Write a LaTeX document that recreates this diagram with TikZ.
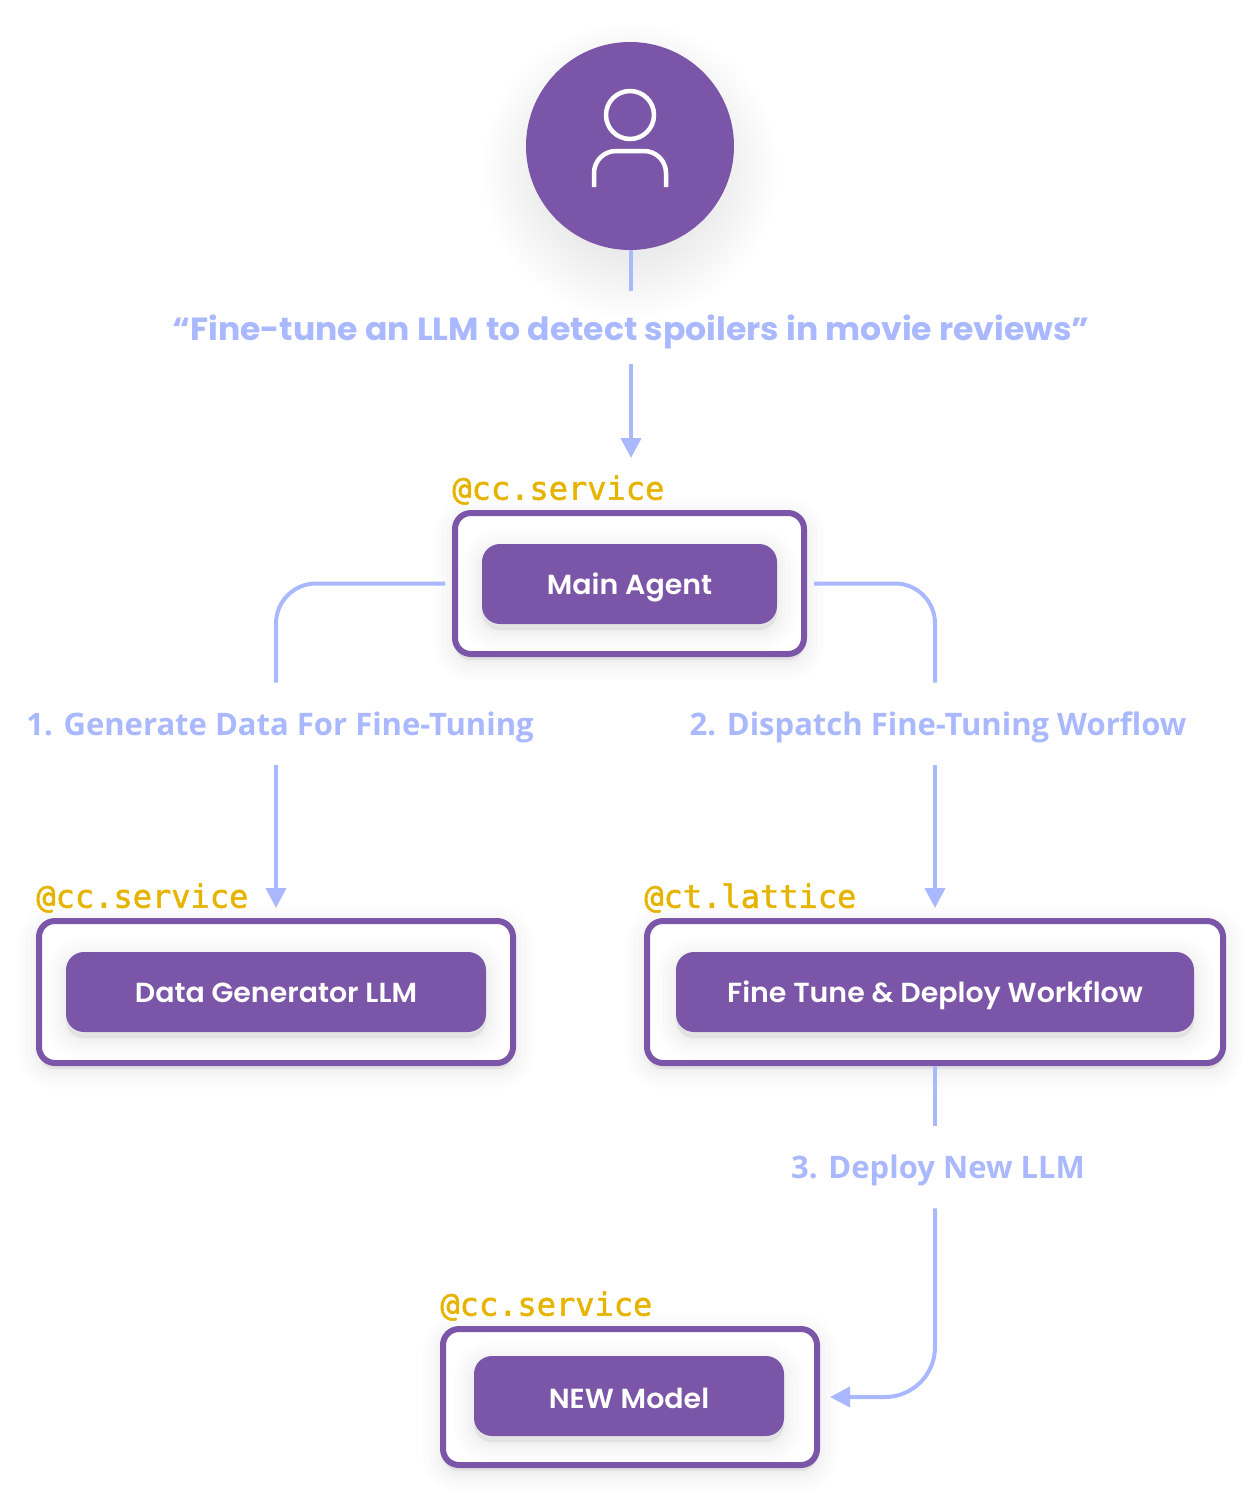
\documentclass[tikz,border=0pt]{standalone}
\usepackage{fontspec}
\usetikzlibrary{arrows.meta}
\newfontfamily\promptfont{Poppins}[FakeStretch=1.034]
\newfontfamily\cardfont{Poppins SemiBold}[FakeStretch=1.03]
\newfontfamily\stepfont{Open Sans}
\newfontfamily\tagfont{DejaVu Sans Mono}[FakeBold=1.5]
\definecolor{agentpurple}{HTML}{7B55A7}
\definecolor{flowblue}{HTML}{A9B8FF}
\definecolor{taggold}{HTML}{E6B400}

\begin{document}
\begin{tikzpicture}[x=.5pt,y=-.5pt]

\tikzset{shadowlayer/.style = {draw=black,fill=black,opacity=.01,line width=#1,line join=round,transform canvas={yshift=-3pt}}}
\tikzset{softshadow/.style = {preaction={shadowlayer=20pt},preaction={shadowlayer=14pt},preaction={shadowlayer=9pt},preaction={shadowlayer=5pt},preaction={shadowlayer=2pt}}}
\tikzset{frame/.style = {shape=rectangle,draw=agentpurple,fill=white,line width=3pt,rounded corners=8pt,softshadow}}
\tikzset{card/.style = {shape=rectangle,fill=agentpurple,text=white,rounded corners=9pt,minimum height=40pt,softshadow,text height=10pt,text depth=0pt,font=\cardfont\fontsize{13.8}{14}\selectfont}}
\tikzset{tag/.style = {anchor=west,inner sep=0pt,text=taggold,font=\tagfont\fontsize{16}{16}\selectfont}}
\tikzset{steplabel/.style = {inner sep=0pt,text=flowblue,minimum height=41pt,text height=14pt,text depth=3pt,font=\stepfont\bfseries\fontsize{15.5}{16}\selectfont}}
\tikzset{link/.style = {draw=flowblue,line width=2pt}}
\tikzset{edge/.style = {link,-{Triangle[length=10pt,width=10pt]}}}

\useasboundingbox (0,0) rectangle (1249,1494);

%user
\shade[inner color=black!18,outer color=white] (630,170) circle (150);
\node[shape=circle,fill=agentpurple,inner sep=0pt,minimum size=104pt] (user) at (630,146) {};
\draw[white,line width=2.25pt] (630,115) circle (24);
\draw[white,line width=2.25pt,rounded corners=11pt] (594,187) -- (594,151) -- (666,151) -- (666,187);

%boxes
\node[frame,minimum width=174.5pt,minimum height=70.5pt] (main) at (629.5,583.5) {};
\node[card,minimum width=147.5pt] (maincard) at (629.5,584) {Main Agent};
\node[frame,minimum width=237pt,minimum height=71pt] (data) at (276,992) {};
\node[card,minimum width=210pt] (datacard) at (276,992) {Data Generator LLM};
\node[frame,minimum width=288pt,minimum height=71pt] (fine) at (935,992) {};
\node[card,minimum width=259pt] (finecard) at (935,992) {Fine Tune \& Deploy Workflow};
\node[frame,minimum width=187pt,minimum height=68pt] (new) at (630,1397) {};
\node[card,minimum width=155pt,text height=12pt] (newcard) at (629,1396) {NEW Model};

%tags
\node[tag] (maintag) at (452,490) {@cc.service};
\node[tag] (datatag) at (36,898) {@cc.service};
\node[tag] (finetag) at (644,898) {@ct.lattice};
\node[tag] (newtag) at (440,1306) {@cc.service};

%labels
\node[inner sep=0pt,minimum height=36.5pt,text height=14pt,text depth=1pt,text=flowblue,font=\promptfont\bfseries\fontsize{16}{16}\selectfont] (prompt) at (631,327.5) {“Fine-tune an LLM to detect spoilers in movie reviews”};
\node[steplabel] (step1) at (280,724) {1. Generate Data For Fine-Tuning};
\node[steplabel] (step2) at (938,724) {2. Dispatch Fine-Tuning Worflow};
\node[steplabel] (step3) at (938,1167) {3. Deploy New LLM};

\coordinate (mainin) at (631,458);
\coordinate (datain) at (276,908);
\coordinate (finein) at (935,908);
\coordinate (newin) at (830,1397);

%edges
\draw[link] (prompt.north |- user.south) -- (prompt.north);
\draw[edge] (prompt.south) -- (mainin);
\draw[link,rounded corners=20pt] ([xshift=-3.5pt]main.west) -| ([xshift=-2pt]step1.north);
\draw[edge] ([xshift=-2pt]step1.south) -- (datain);
\draw[link,rounded corners=20pt] ([xshift=3.5pt]main.east) -| ([xshift=-1.5pt]step2.north);
\draw[edge] ([xshift=-1.5pt]step2.south) -- (finein);
\draw[link] (fine.south) -- ([xshift=-1.5pt]step3.north);
\draw[edge,rounded corners=25pt] ([xshift=-1.5pt]step3.south) |- (newin);

\end{tikzpicture}
\end{document}
